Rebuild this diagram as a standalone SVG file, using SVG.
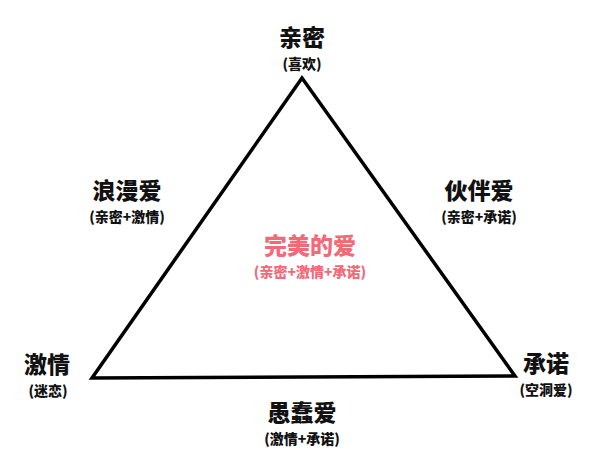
<svg xmlns="http://www.w3.org/2000/svg" width="615" height="462" viewBox="0 0 615 462">
<style>
.t{font-family:"Noto Sans CJK SC","Noto Sans",sans-serif;font-weight:900;text-anchor:middle;fill:#111}
.b{font-size:23px}.s{font-size:14px}
.p{fill:#f06a78}
</style>
<rect width="615" height="462" fill="#fff"/>
<g id="connectors"><polygon points="302,78 92,378 515,376" fill="none" stroke="#000" stroke-width="3.5" stroke-linejoin="miter"/></g>
<g id="top"><text class="t b" x="302" y="46">亲密</text><text class="t s" x="302" y="69">(喜欢)</text></g>
<g id="left"><text class="t b" x="47" y="373">激情</text><text class="t s" x="48" y="396">(迷恋)</text></g>
<g id="right"><text class="t b" x="546" y="372">承诺</text><text class="t s" x="546" y="395">(空洞爱)</text></g>
<g id="bottom"><text class="t b" x="302" y="421">愚蠢爱</text><text class="t s" x="302" y="444">(激情+承诺)</text></g>
<g id="romantic"><text class="t b" x="127" y="199">浪漫爱</text><text class="t s" x="127" y="222">(亲密+激情)</text></g>
<g id="companion"><text class="t b" x="479" y="199">伙伴爱</text><text class="t s" x="479" y="222">(亲密+承诺)</text></g>
<g id="center"><text class="t b p" x="310" y="254">完美的爱</text><text class="t s p" x="310" y="277">(亲密+激情+承诺)</text></g>
</svg>
